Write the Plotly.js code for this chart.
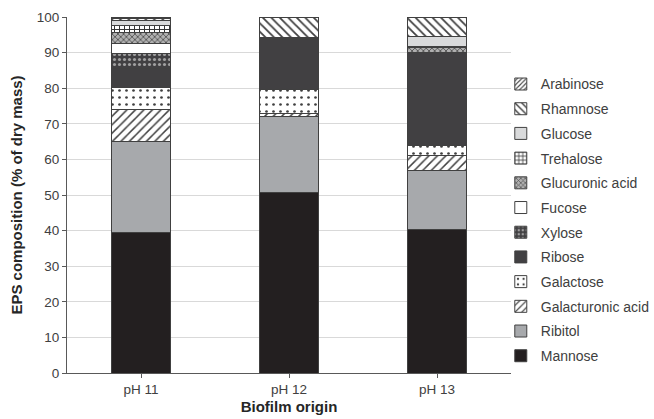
<!DOCTYPE html>
<html>
<head>
<meta charset="utf-8">
<script src="https://cdn.plot.ly/plotly-3.0.1.min.js"></script>
<style>html,body{margin:0;padding:0;background:#fff;}#chart{width:654px;height:419px;}</style>
</head>
<body>
<div id="chart"></div>
<script>
// Categories and series values (% of dry mass), stacked bottom to top
const categories = ["pH 11", "pH 12", "pH 13"];
const mannose        = [39.5, 50.6, 40.4];
const ribitol        = [25.4, 21.5, 16.4];
const galacturonic   = [9.0,  0.7,  4.2];
const galactose      = [6.3,  6.7,  2.8];
const ribose         = [5.4,  14.1, 26.2];
const xylose         = [4.2,  0.0,  0.0];
const fucose         = [2.8,  0.0,  0.0];
const glucuronic     = [3.0,  0.3,  1.5];
const trehalose      = [2.1,  0.3,  0.3];
const glucose        = [1.4,  0.0,  2.8];
const rhamnose       = [0.4,  5.8,  5.4];
const arabinose      = [0.5,  0.0,  0.0];

const seriesNames = ["Mannose","Ribitol","Galacturonic acid","Galactose","Ribose","Xylose","Fucose","Glucuronic acid","Trehalose","Glucose","Rhamnose","Arabinose"];
const seriesValues = [mannose, ribitol, galacturonic, galactose, ribose, xylose, fucose, glucuronic, trehalose, glucose, rhamnose, arabinose];

const styles = [
  {color:"#231f20"},
  {color:"#a7a9ac"},
  {color:"#ffffff", pattern:{shape:"/", fgcolor:"#404040", bgcolor:"#ffffff", size:6, solidity:0.25, fillmode:"replace"}},
  {color:"#ffffff", pattern:{shape:".", fgcolor:"#404040", bgcolor:"#ffffff", size:7, solidity:0.12, fillmode:"replace"}},
  {color:"#414042"},
  {color:"#414042", pattern:{shape:".", fgcolor:"#a0a0a0", bgcolor:"#414042", size:5, solidity:0.3, fillmode:"replace"}},
  {color:"#ffffff"},
  {color:"#808080", pattern:{shape:"x", fgcolor:"#555555", bgcolor:"#b0b0b0", size:4, solidity:0.4, fillmode:"replace"}},
  {color:"#ffffff", pattern:{shape:"+", fgcolor:"#303030", bgcolor:"#ffffff", size:5, solidity:0.35, fillmode:"replace"}},
  {color:"#d9dadb"},
  {color:"#ffffff", pattern:{shape:"\\", fgcolor:"#404040", bgcolor:"#ffffff", size:6, solidity:0.3, fillmode:"replace"}},
  {color:"#ffffff", pattern:{shape:"/", fgcolor:"#404040", bgcolor:"#ffffff", size:4, solidity:0.35, fillmode:"replace"}}
];

const traces = seriesNames.map((name, i) => {
  const m = {color: styles[i].color, line:{color:"#404040", width:1}};
  if (styles[i].pattern) m.pattern = styles[i].pattern;
  return {
    type:"bar", name:name, x:categories, y:seriesValues[i],
    marker:m, legendgroup:"g"+i, legendrank: 100 - i, hoverinfo:"name+y"
  };
});

const layout = {
  width:654, height:419,
  margin:{l:67, r:143, t:17, b:46, autoexpand:false},
  paper_bgcolor:"#ffffff", plot_bgcolor:"#ffffff",
  barmode:"stack", bargap:0.595,
  font:{family:"Liberation Sans, Arial, sans-serif", color:"#404040", size:13},
  xaxis:{
    showline:true, linecolor:"#595959", linewidth:1,
    ticks:"outside", ticklen:4, tickcolor:"#595959",
    tickfont:{size:13.5, color:"#404040"},
    title:{text:"<b>Biofilm origin</b>", font:{size:15, color:"#262626"}, standoff:5}
  },
  yaxis:{
    range:[0,100], dtick:10, showline:true, linecolor:"#595959", linewidth:1,
    ticks:"outside", ticklen:4, tickcolor:"#595959",
    gridcolor:"#d9d9d9", gridwidth:1, zeroline:false,
    tickfont:{size:13.5, color:"#404040"},
    title:{text:"<b>EPS composition (% of dry mass)</b>", font:{size:15, color:"#262626"}, standoff:10}
  },
  legend:{
    x:0.977, xanchor:"left", y:0.43, yanchor:"middle",
    traceorder:"grouped", tracegroupgap:3.5,
    font:{size:14, color:"#404040"},
    itemwidth:30, bgcolor:"rgba(0,0,0,0)"
  },
  showlegend:true
};

Plotly.newPlot("chart", traces, layout, {displayModeBar:false, staticPlot:true});
</script>
</body>
</html>
